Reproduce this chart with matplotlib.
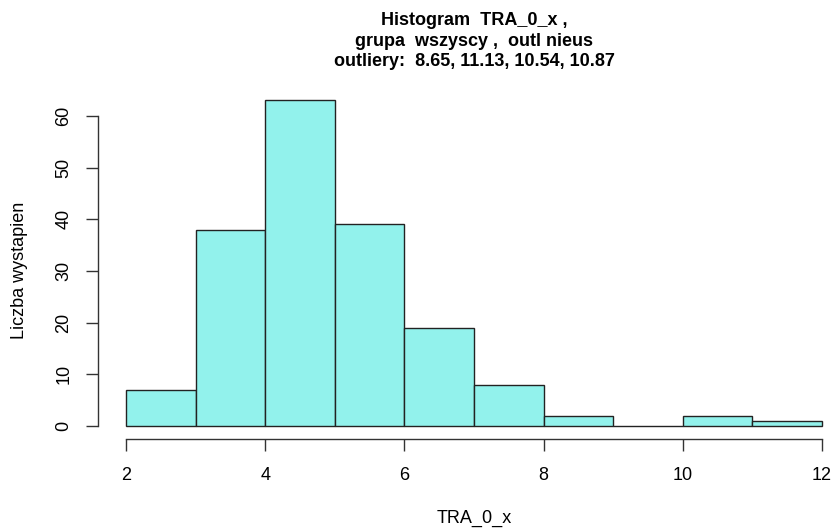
import matplotlib
matplotlib.use("Agg")
import matplotlib.pyplot as plt

plt.rcParams['font.family'] = ['Liberation Sans', 'DejaVu Sans']

bin_edges = [2, 3, 4, 5, 6, 7, 8, 9, 10, 11, 12]
counts = [7, 38, 63, 39, 19, 8, 2, 0, 2, 1]
x_ticks = [2, 4, 6, 8, 10, 12]
y_ticks = [0, 10, 20, 30, 40, 50, 60]
title = "Histogram  TRA_0_x ,\ngrupa  wszyscy ,  outl nieus\noutliery:  8.65, 11.13, 10.54, 10.87"
xlabel = "TRA_0_x"
ylabel = "Liczba wystapien"

W, H = 834, 528
fig = plt.figure(figsize=(W / 100, H / 100), dpi=100)

left_px, right_px = 98.2, 849.8
top_px, bottom_px = 87.3, 439.0
ax = fig.add_axes([left_px / W, (H - bottom_px) / H,
                   (right_px - left_px) / W, (bottom_px - top_px) / H])

lefts = bin_edges[:-1]
widths = [b - a for a, b in zip(bin_edges[:-1], bin_edges[1:])]
ax.bar(lefts, counts, width=widths, align='edge', color='#92F2EC',
       edgecolor='#222222', linewidth=1.0)

xmin, xmax = bin_edges[0], bin_edges[-1]
ymax = max(counts)
ax.set_xlim(xmin - 0.04 * (xmax - xmin), xmax + 0.04 * (xmax - xmin))
ax.set_ylim(-0.04 * ymax, ymax * 1.04)

for s in ['top', 'right']:
    ax.spines[s].set_visible(False)
ax.spines['left'].set_bounds(y_ticks[0], y_ticks[-1])
ax.spines['bottom'].set_bounds(x_ticks[0], x_ticks[-1])
for s in ['left', 'bottom']:
    ax.spines[s].set_color('#333333')
    ax.spines[s].set_linewidth(1.0)

ax.set_xticks(x_ticks)
ax.set_xticklabels([str(t) for t in x_ticks])
ax.set_yticks(y_ticks)
ax.set_yticklabels([str(t) for t in y_ticks])
ax.tick_params(axis='both', direction='out', length=8.5, width=1.0,
               color='#333333', labelsize=13)
ax.tick_params(axis='x', pad=12)
ax.tick_params(axis='y', pad=10)
for lab in ax.get_yticklabels():
    lab.set_rotation(90)
    lab.set_va('center')

fig.text(474 / W, 1 - 518 / H, xlabel, ha='center', va='center', fontsize=13)
fig.text(20 / W, 1 - 270 / H, ylabel, ha='center', va='center', fontsize=13,
         rotation=90)
fig.text(474 / W, 1 - 41 / H, title, ha='center', va='center', fontsize=13,
         fontweight='bold', linespacing=1.3)

fig.savefig("out.png", dpi=100)
